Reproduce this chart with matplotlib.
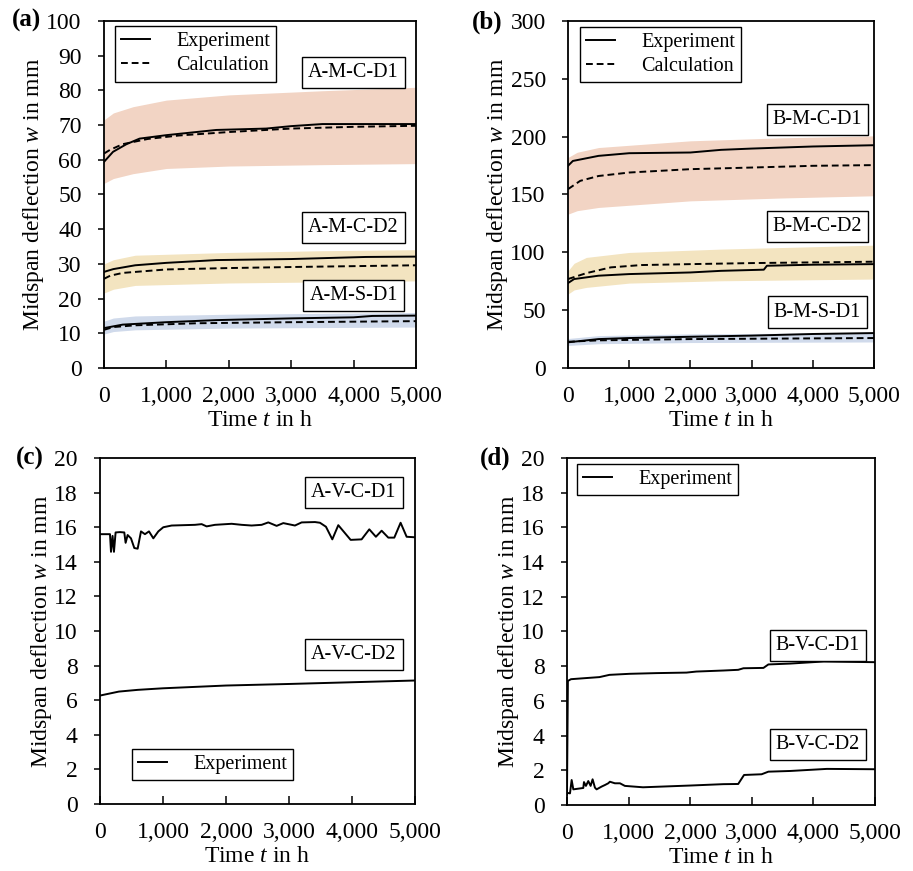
import numpy as np
import matplotlib
matplotlib.use("Agg")
import matplotlib.pyplot as plt
from matplotlib.ticker import FuncFormatter, MultipleLocator

plt.rcParams["font.family"] = ["Liberation Serif", "DejaVu Serif"]
plt.rcParams["mathtext.fontset"] = "custom"
plt.rcParams["mathtext.rm"] = "Liberation Serif"
plt.rcParams["mathtext.it"] = "Liberation Serif:italic"

# ---------------- (a) series A, midspan ----------------
a_c1_exp_t = [0, 145, 360, 570, 1000, 1800, 2600, 3000, 3500, 5000]
a_c1_exp_w = [59.4, 62.3, 64.5, 66.1, 67.1, 68.6, 69.0, 69.7, 70.3, 70.3]
a_c1_cal_t = [0, 100, 300, 700, 1200, 2000, 3000, 4000, 5000]
a_c1_cal_w = [61.8, 62.9, 64.5, 66.0, 67.0, 68.0, 69.0, 69.5, 69.8]
a_c1_band_t = [0, 150, 465, 1000, 2000, 3500, 5000]
a_c1_band_lo = [53.2, 54.6, 56.0, 57.5, 58.2, 58.6, 58.9]
a_c1_band_hi = [71.5, 73.5, 75.3, 77.2, 78.7, 79.9, 80.9]

a_c2_exp_t = [0, 150, 500, 1000, 1800, 3000, 4200, 5000]
a_c2_exp_w = [27.7, 28.5, 29.6, 30.3, 31.1, 31.4, 32.0, 32.1]
a_c2_cal_t = [0, 100, 300, 1000, 2000, 3000, 5000]
a_c2_cal_w = [25.7, 26.6, 27.4, 28.4, 28.8, 29.1, 29.6]
a_c2_band_t = [0, 150, 500, 2000, 3500, 5000]
a_c2_band_lo = [21.6, 22.7, 23.8, 24.5, 24.8, 25.1]
a_c2_band_hi = [30.0, 31.2, 32.5, 33.3, 33.8, 34.1]

a_s1_exp_t = [0, 300, 1000, 1800, 3000, 4000, 4300, 5000]
a_s1_exp_w = [11.5, 12.5, 13.2, 13.8, 14.3, 14.6, 15.0, 15.1]
a_s1_cal_t = [0, 150, 500, 1500, 3000, 5000]
a_s1_cal_w = [11.0, 11.8, 12.3, 12.9, 13.2, 13.5]
a_s1_band_t = [0, 150, 500, 2000, 5000]
a_s1_band_lo = [9.8, 10.5, 11.0, 11.5, 11.8]
a_s1_band_hi = [13.5, 14.4, 15.0, 15.5, 16.0]

# ---------------- (b) series B, midspan ----------------
b_c1_exp_t = [0, 80, 500, 1000, 2000, 2500, 3000, 4000, 5000]
b_c1_exp_w = [174.8, 179.0, 183.4, 185.7, 186.3, 188.6, 189.7, 191.5, 192.6]
b_c1_cal_t = [0, 200, 500, 1000, 2000, 3000, 4000, 5000]
b_c1_cal_w = [154.6, 161.8, 166.0, 169.0, 171.9, 173.3, 174.8, 175.4]
b_c1_band_t = [0, 150, 500, 2000, 3500, 5000]
b_c1_band_lo = [133.0, 136.0, 138.8, 144.5, 147.0, 148.9]
b_c1_band_hi = [182.0, 186.5, 190.6, 196.4, 199.0, 200.7]

b_c2_exp_t = [0, 100, 500, 1000, 2000, 2500, 3200, 3250, 4000, 5000]
b_c2_exp_w = [73.4, 76.9, 79.8, 81.2, 82.6, 84.0, 85.0, 88.4, 89.3, 89.8]
b_c2_cal_t = [0, 300, 700, 1200, 2000, 3000, 5000]
b_c2_cal_w = [76.9, 82.0, 87.0, 89.0, 89.8, 90.7, 91.9]
b_c2_band_t = [0, 100, 300, 1000, 2500, 5000]
b_c2_band_lo = [63.9, 67.5, 69.7, 73.4, 75.4, 76.9]
b_c2_band_hi = [84.0, 90.5, 95.6, 99.9, 102.8, 106.2]

b_s1_exp_t = [0, 500, 1000, 2000, 3000, 4000, 5000]
b_s1_exp_w = [22.2, 25.0, 25.9, 27.0, 28.0, 29.4, 30.2]
b_s1_cal_t = [0, 500, 2000, 5000]
b_s1_cal_w = [22.7, 23.9, 25.0, 25.9]
b_s1_band_t = [0, 500, 2000, 5000]
b_s1_band_lo = [19.5, 21.0, 22.0, 22.5]
b_s1_band_hi = [25.5, 28.0, 29.5, 30.5]

# ---------------- (c) series A, V ----------------
c_d1_t = [0, 159, 175, 200, 222, 248, 317, 386, 407, 439, 492, 545, 598, 651,
          714, 778, 847, 926, 1005, 1138, 1508, 1614, 1693, 1825, 2090, 2249,
          2407, 2566, 2672, 2804, 2910, 3095, 3201, 3413, 3492, 3587, 3688,
          3783, 3979, 4153, 4275, 4380, 4471, 4577, 4672, 4772, 4868, 5000]
c_d1_w = [15.6, 15.6, 14.58, 15.5, 14.58, 15.7, 15.72, 15.7, 15.1, 15.55,
          15.36, 14.8, 14.76, 15.76, 15.6, 15.76, 15.36, 15.76, 16.0, 16.1,
          16.14, 16.18, 16.05, 16.14, 16.2, 16.14, 16.1, 16.14, 16.28, 16.08,
          16.24, 16.1, 16.28, 16.3, 16.26, 16.03, 15.3, 16.12, 15.27, 15.3,
          15.88, 15.45, 15.8, 15.4, 15.4, 16.26, 15.45, 15.42]
c_d2_t = [0, 300, 600, 1000, 2000, 3000, 4000, 5000]
c_d2_w = [6.27, 6.5, 6.6, 6.69, 6.85, 6.94, 7.04, 7.14]

# ---------------- (d) series B, V ----------------
d_d1_t = [0, 15, 65, 255, 527, 690, 1016, 1450, 1940, 2100, 2540, 2780,
          2865, 3190, 3270, 3625, 4170, 5000]
d_d1_w = [0.6, 7.15, 7.25, 7.3, 7.37, 7.5, 7.56, 7.6, 7.63, 7.69, 7.75,
          7.79, 7.88, 7.9, 8.1, 8.15, 8.27, 8.23]
d_d2_t = [0, 49, 76, 103, 184, 265, 276, 308, 346, 384, 416, 454, 481, 562,
          616, 670, 697, 778, 860, 940, 1234, 1995, 2540, 2780, 2875, 3160,
          3270, 3625, 4220, 5000]
d_d2_w = [0.7, 0.67, 1.44, 0.9, 0.94, 0.98, 1.32, 1.1, 1.38, 1.1, 1.48, 1.0,
          0.9, 1.06, 1.15, 1.25, 1.34, 1.25, 1.25, 1.1, 1.02, 1.12, 1.2, 1.21,
          1.73, 1.77, 1.92, 1.96, 2.08, 2.06]

PEACH = "#f2d4c4"
SAND = "#f3e4c0"
BLUE = "#d0daeb"
LW = 1.4
DASH = (0, (3.5, 2.0))

fig = plt.figure(figsize=(9.13, 8.71), dpi=100)
ax_a = fig.add_axes([0.1139, 0.5775, 0.3417, 0.3984])
ax_b = fig.add_axes([0.6221, 0.5775, 0.3352, 0.3984])
ax_c = fig.add_axes([0.1095, 0.0769, 0.3450, 0.3972])
ax_d = fig.add_axes([0.6210, 0.0758, 0.3373, 0.3984])

thousands = FuncFormatter(lambda v, p: f"{int(v):,}")


def style(ax, ymax, ystep):
    ax.set_xlim(0, 5000)
    ax.set_ylim(0, ymax)
    ax.xaxis.set_major_locator(MultipleLocator(1000))
    ax.yaxis.set_major_locator(MultipleLocator(ystep))
    ax.xaxis.set_major_formatter(thousands)
    ax.tick_params(axis="x", direction="in", length=6, width=1.1,
                   labelsize=17, pad=13)
    ax.tick_params(axis="y", direction="out", length=4, width=1.1,
                   labelsize=17, pad=12)
    for s in ax.spines.values():
        s.set_linewidth(1.3)
    ax.set_xlabel("Time $t$ in h", fontsize=17, labelpad=2)
    ax.set_ylabel("Midspan deflection $w$ in mm", fontsize=17, labelpad=0)


def tag(ax, text, xf, y):
    ax.text(xf, y, text, transform=ax.get_yaxis_transform(), fontsize=14.5,
            ha="center", va="center",
            bbox=dict(boxstyle="square,pad=0.3", fc="white", ec="black", lw=1.0))


def leg(ax, handles, labels, loc, anchor):
    lg = ax.legend(handles, labels, loc=loc, bbox_to_anchor=anchor,
                   borderaxespad=0, fontsize=14.5, frameon=True,
                   fancybox=False, framealpha=1, edgecolor="black",
                   handlelength=1.45, handletextpad=1.3,
                   borderpad=0.3, labelspacing=0.25, borderaxespad_=None) \
        if False else ax.legend(handles, labels, loc=loc, bbox_to_anchor=anchor,
                                borderaxespad=0, fontsize=14.5, frameon=True,
                                fancybox=False, framealpha=1, edgecolor="black",
                                handlelength=1.45, handletextpad=1.3,
                                borderpad=0.3, labelspacing=0.25)
    lg.get_frame().set_linewidth(1.0)


def panel(ax, groups):
    for bt, lo, hi, col, et, ew, ct, cw in groups:
        ax.fill_between(bt, lo, hi, color=col, lw=0, zorder=1)
    handles = []
    for bt, lo, hi, col, et, ew, ct, cw in groups:
        h1, = ax.plot(et, ew, color="black", lw=LW, zorder=3)
        h2, = ax.plot(ct, cw, color="black", lw=LW, ls=DASH, zorder=3)
        handles = [h1, h2]
    return handles


# (a)
hs = panel(ax_a, [
    (a_c1_band_t, a_c1_band_lo, a_c1_band_hi, PEACH, a_c1_exp_t, a_c1_exp_w, a_c1_cal_t, a_c1_cal_w),
    (a_c2_band_t, a_c2_band_lo, a_c2_band_hi, SAND, a_c2_exp_t, a_c2_exp_w, a_c2_cal_t, a_c2_cal_w),
    (a_s1_band_t, a_s1_band_lo, a_s1_band_hi, BLUE, a_s1_exp_t, a_s1_exp_w, a_s1_cal_t, a_s1_cal_w),
])
style(ax_a, 100, 10)
leg(ax_a, hs, ["Experiment", "Calculation"], "upper left", (0.035, 0.985))
tag(ax_a, "A-M-C-D1", 0.80, 85.2)
tag(ax_a, "A-M-C-D2", 0.80, 40.6)
tag(ax_a, "A-M-S-D1", 0.80, 21.0)

# (b)
hs = panel(ax_b, [
    (b_c1_band_t, b_c1_band_lo, b_c1_band_hi, PEACH, b_c1_exp_t, b_c1_exp_w, b_c1_cal_t, b_c1_cal_w),
    (b_c2_band_t, b_c2_band_lo, b_c2_band_hi, SAND, b_c2_exp_t, b_c2_exp_w, b_c2_cal_t, b_c2_cal_w),
    (b_s1_band_t, b_s1_band_lo, b_s1_band_hi, BLUE, b_s1_exp_t, b_s1_exp_w, b_s1_cal_t, b_s1_cal_w),
])
style(ax_b, 300, 50)
leg(ax_b, hs, ["Experiment", "Calculation"], "upper left", (0.039, 0.983))
tag(ax_b, "B-M-C-D1", 0.815, 215)
tag(ax_b, "B-M-C-D2", 0.815, 122)
tag(ax_b, "B-M-S-D1", 0.815, 48.4)

# (c)
h, = ax_c.plot(c_d1_t, c_d1_w, color="black", lw=LW)
ax_c.plot(c_d2_t, c_d2_w, color="black", lw=LW)
style(ax_c, 20, 2)
leg(ax_c, [h], ["Experiment"], "lower left", (0.102, 0.069))
tag(ax_c, "A-V-C-D1", 0.806, 18.0)
tag(ax_c, "A-V-C-D2", 0.806, 8.67)

# (d)
h, = ax_d.plot(d_d1_t, d_d1_w, color="black", lw=LW)
ax_d.plot(d_d2_t, d_d2_w, color="black", lw=LW)
style(ax_d, 20, 2)
leg(ax_d, [h], ["Experiment"], "upper left", (0.032, 0.983))
tag(ax_d, "B-V-C-D1", 0.815, 9.2)
tag(ax_d, "B-V-C-D2", 0.815, 3.46)

for lab, x, y in [("(a)", 12, 20), ("(b)", 472, 22), ("(c)", 16, 458), ("(d)", 480, 458)]:
    fig.text(x / 913, 1 - y / 871, lab, fontsize=18, fontweight="bold",
             ha="left", va="center")

fig.savefig("out.png", dpi=100)
